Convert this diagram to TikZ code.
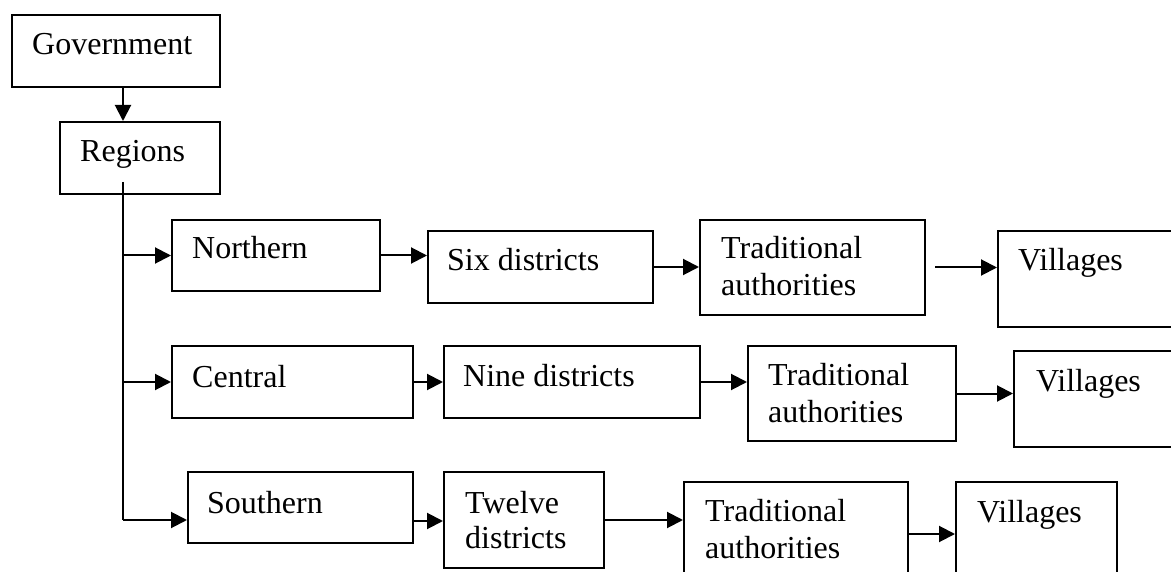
\documentclass[tikz,border=0pt]{standalone}
\usepackage{fontspec}
\setmainfont{Liberation Serif}
\usetikzlibrary{arrows.meta}
\tikzset{
  boxst/.style={draw=black, line width=2pt, rectangle, inner sep=0pt, anchor=north west},
  txt/.style={inner sep=0pt, anchor=base west, font=\fontsize{32pt}{37pt}\selectfont},
  conn/.style={draw=black, line width=2pt},
  arr/.style={conn, -{Triangle[length=16pt,width=16pt]}}
}
\begin{document}
\begin{tikzpicture}[x=1pt,y=-1pt]
\useasboundingbox (0,0) rectangle (1171,572);
\fill[white] (0,0) rectangle (1171,572);
\clip (0,0) rectangle (1171,572);

% boxes
\node[boxst, minimum width=208pt, minimum height=72pt] (gov) at (11,14) {};
\node[boxst, minimum width=160pt, minimum height=72pt] (reg) at (59,121) {};
\node[boxst, minimum width=208pt, minimum height=71pt] (nor) at (171,219) {};
\node[boxst, minimum width=225pt, minimum height=72pt] (six) at (427,230) {};
\node[boxst, minimum width=225pt, minimum height=95pt] (taa) at (699,219) {};
\node[boxst, minimum width=193pt, minimum height=96pt] (vla) at (997,230) {};
\node[boxst, minimum width=241pt, minimum height=72pt] (cen) at (171,345) {};
\node[boxst, minimum width=256pt, minimum height=72pt] (nin) at (443,345) {};
\node[boxst, minimum width=208pt, minimum height=95pt] (tab) at (747,345) {};
\node[boxst, minimum width=177pt, minimum height=96pt] (vlb) at (1013,350) {};
\node[boxst, minimum width=225pt, minimum height=71pt] (sou) at (187,471) {};
\node[boxst, minimum width=160pt, minimum height=96pt] (twe) at (443,471) {};
\node[boxst, minimum width=224pt, minimum height=104pt] (tac) at (683,481) {};
\node[boxst, minimum width=161pt, minimum height=104pt] (vlc) at (955,481) {};

% texts
\node[txt] (govt) at (32,55) {Government};
\node[txt] (regt) at (80,162) {Regions};
\node[txt] (nort) at (192,259) {Northern};
\node[txt] (sixt) at (447,271) {Six districts};
\node[txt] (taat1) at (721,259) {Traditional};
\node[txt] (taat2) at (721,296) {authorities};
\node[txt] (vlat) at (1018,271) {Villages};
\node[txt] (cent) at (192,387) {Central};
\node[txt] (nint) at (463,386) {Nine districts};
\node[txt] (tabt1) at (768,385) {Traditional};
\node[txt] (tabt2) at (768,422) {authorities};
\node[txt] (vlbt) at (1036,391) {Villages};
\node[txt] (sout) at (207,513) {Southern};
\node[txt] (twet1) at (465,513) {Twelve};
\node[txt] (twet2) at (465,548) {districts};
\node[txt] (tact1) at (705,521) {Traditional};
\node[txt] (tact2) at (705,558) {authorities};
\node[txt] (vlct) at (977,522) {Villages};

% trunk
\coordinate (ttop) at (123,182);
\coordinate (sarr) at ([yshift=-12.5pt]sou.west);
\draw[arr] (gov.south -| ttop) -- (reg.north -| ttop);
\draw[conn] (ttop) -- (ttop |- sarr);
\draw[arr] (ttop |- nor.west) -- (nor.west);
\draw[arr] (ttop |- cen.west) -- (cen.west);
\draw[arr] (ttop |- sarr) -- (sarr);

% row 1
\draw[arr] (nor.east) -- (nor.east -| six.west);
\draw[arr] (six.east) -- (six.east -| taa.west);
\draw[arr, shorten <=9pt] (taa.east) -- (taa.east -| vla.west);
% row 2
\draw[arr] (cen.east) -- (cen.east -| nin.west);
\draw[arr] (nin.east) -- (nin.east -| tab.west);
\draw[arr] (tab.east) -- (tab.east -| vlb.west);
% row 3
\coordinate (sout2) at ([yshift=-13.5pt]sou.east);
\draw[arr] (sout2) -- (sout2 -| twe.west);
\draw[arr] (twe.east) -- (twe.east -| tac.west);
\draw[arr] (tac.east) -- (tac.east -| vlc.west);
\end{tikzpicture}
\end{document}
